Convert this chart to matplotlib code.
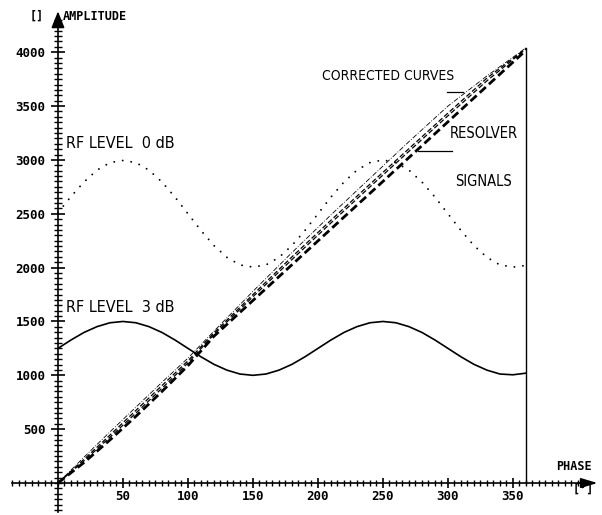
import matplotlib
matplotlib.use("Agg")
import matplotlib.pyplot as plt
from matplotlib import font_manager
import numpy as np

# ---------------- data ----------------
phase_sine = [0, 10, 20, 30, 40, 50, 60, 70, 80, 90, 100, 110, 120, 130, 140, 150,
              160, 170, 180, 190, 200, 210, 220, 230, 240, 250, 260, 270, 280, 290,
              300, 310, 320, 330, 340, 350, 360]
rf_0db = [2510, 2660, 2795, 2905, 2975, 2995, 2975, 2905, 2795, 2655, 2500, 2345,
          2205, 2095, 2025, 2005, 2025, 2095, 2205, 2345, 2500, 2655, 2795, 2905,
          2975, 3000, 2975, 2905, 2795, 2655, 2500, 2345, 2205, 2095, 2025, 2005, 2020]
rf_3db = [1250, 1328, 1398, 1452, 1488, 1500, 1488, 1452, 1398, 1328, 1250, 1172,
          1102, 1048, 1012, 1000, 1012, 1048, 1102, 1172, 1250, 1328, 1398, 1452,
          1488, 1500, 1488, 1452, 1398, 1328, 1250, 1172, 1102, 1048, 1012, 1005, 1020]

phase_lin = [0, 20, 40, 60, 80, 100, 120, 150, 180, 210, 240, 270, 300, 330, 360]
resolver_bold = [0, 190, 400, 620, 850, 1090, 1363, 1695, 2027, 2359, 2690, 3022, 3354, 3686, 4018]
resolver_a = [0, 205, 425, 650, 880, 1115, 1380, 1730, 2075, 2415, 2750, 3080, 3410, 3735, 4030]
resolver_b = [0, 220, 445, 675, 905, 1135, 1395, 1750, 2100, 2440, 2775, 3105, 3435, 3760, 4035]
corrected = [0, 240, 475, 705, 935, 1160, 1410, 1780, 2140, 2490, 2830, 3170, 3500, 3780, 4040]

x_major = [50, 100, 150, 200, 250, 300, 350]
y_major = [500, 1000, 1500, 2000, 2500, 3000, 3500, 4000]
x_labels = [str(v) for v in x_major]
y_labels = [str(v) for v in y_major]

# ---------------- fonts ----------------
names = {f.name for f in font_manager.fontManager.ttflist}
txt_kw = dict(family=['DejaVu Sans'], fontstretch='condensed')
if 'Liberation Sans Narrow' in names:
    txt_kw = dict(family=['Liberation Sans Narrow', 'DejaVu Sans'])
tickfont = ['DejaVu Sans Mono', 'DejaVu Sans']

# ---------------- figure ----------------
fig = plt.figure(figsize=(6.02, 5.15), dpi=100)
ax = fig.add_axes([0, 0, 1, 1])
ax.set_xlim(-44.6, 418.5)
ax.set_ylim(-297, 4485)

ax.plot(phase_sine, rf_0db, color='black', lw=1.4,
        linestyle=(0, (0.01, 4.4)), dash_capstyle='round')
ax.plot(phase_sine, rf_3db, color='black', lw=1.2)

ax.plot(phase_lin, corrected, color='black', lw=0.6, linestyle=(0, (6, 2, 1, 2)))
ax.plot(phase_lin, resolver_b, color='black', lw=0.9, linestyle=(0, (4, 2)))
ax.plot(phase_lin, resolver_a, color='black', lw=0.9, linestyle=(0, (4, 2)))
ax.plot(phase_lin, resolver_bold, color='black', lw=2.0, linestyle=(0, (3, 1.5)))

# vertical end line at 360 deg
ax.plot([phase_lin[-1], phase_lin[-1]], [0, corrected[-1]], color='black', lw=1.0)

# pointer strokes
ax.plot([299, 311.5], [3630, 3630], color='black', lw=0.9)
ax.plot([277, 303], [3083, 3083], color='black', lw=0.9)

# ---------------- axes styling ----------------
for s in ['top', 'right']:
    ax.spines[s].set_visible(False)
ax.spines['left'].set_position(('data', 0))
ax.spines['bottom'].set_position(('data', 0))
ax.spines['left'].set_bounds(-270, 4300)
ax.spines['bottom'].set_bounds(-35, 405)
for s in ['left', 'bottom']:
    ax.spines[s].set_linewidth(1.2)

ax.set_xticks(x_major)
ax.set_xticklabels(x_labels)
ax.set_yticks(y_major)
ax.set_yticklabels(y_labels)
ax.set_xticks(np.arange(-35, 406, 5), minor=True)
ax.set_yticks(np.arange(-250, 4301, 50), minor=True)

ax.tick_params(axis='x', which='major', direction='inout', length=7, width=1.2, pad=1.5)
ax.tick_params(axis='x', which='minor', direction='inout', length=4.5, width=1.0)
ax.tick_params(axis='y', which='major', direction='inout', length=10, width=1.2, pad=4)
ax.tick_params(axis='y', which='minor', direction='inout', length=6, width=1.0)
for lab in ax.get_xticklabels() + ax.get_yticklabels():
    lab.set_fontfamily(tickfont)
    lab.set_fontweight('bold')
    lab.set_fontsize(9)

# arrows
ax.annotate('', xy=(0, 4380), xytext=(0, 4240),
            arrowprops=dict(arrowstyle='-|>,head_length=1.0,head_width=0.4',
                            color='black', lw=1.2, shrinkA=0, shrinkB=0))
ax.annotate('', xy=(415, 0), xytext=(400, 0),
            arrowprops=dict(arrowstyle='-|>,head_length=1.0,head_width=0.3',
                            color='black', lw=1.2, shrinkA=0, shrinkB=0))

# ---------------- texts ----------------
ax.text(-16, 4336, '[]', fontsize=8.5, fontweight='bold', family=tickfont,
        ha='center', va='center')
ax.text(3.5, 4336, 'AMPLITUDE', fontsize=8.5, fontweight='bold', family=tickfont,
        ha='left', va='center')
ax.text(383, 150, 'PHASE', fontsize=8.5, fontweight='bold', family=tickfont,
        ha='left', va='center')
ax.text(396, -56, '[°]', fontsize=8.5, fontweight='bold', family=tickfont,
        ha='left', va='center')

ax.text(203, 3779, 'CORRECTED CURVES', fontsize=10, ha='left', va='center', **txt_kw)
ax.text(301.5, 3250, 'RESOLVER', fontsize=10.5, ha='left', va='center', **txt_kw)
ax.text(305.4, 2804, 'SIGNALS', fontsize=10.5, ha='left', va='center', **txt_kw)
ax.text(6.2, 3148, 'RF LEVEL  0 dB', fontsize=11.5, ha='left', va='center', **txt_kw)
ax.text(6.2, 1629, 'RF LEVEL  3 dB', fontsize=11.5, ha='left', va='center', **txt_kw)

fig.savefig('out.png', dpi=100)
